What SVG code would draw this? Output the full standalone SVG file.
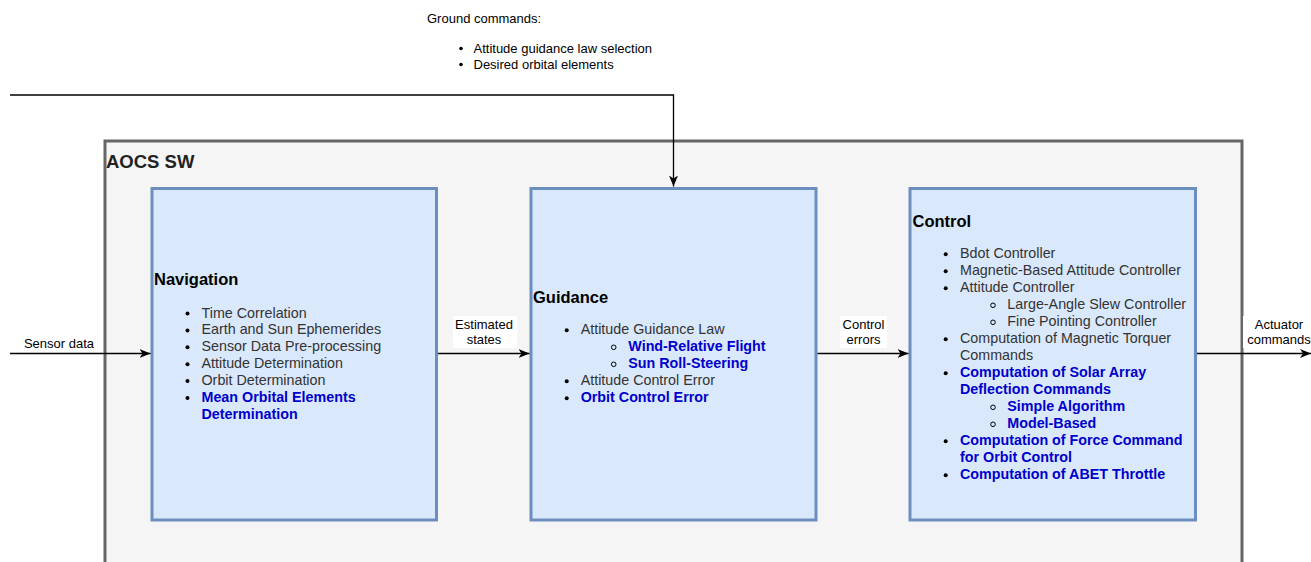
<svg xmlns="http://www.w3.org/2000/svg" width="1311" height="562" viewBox="0 0 1311 562">
  <defs>
    <marker id="arrow" viewBox="0 0 11 10" refX="11" refY="5" markerWidth="11" markerHeight="10" markerUnits="userSpaceOnUse" orient="auto">
      <path d="M0,0.5 L11,5 L0,9.5 L3,5 Z" fill="#000"/>
    </marker>
    <style>
      text { font-family: "Liberation Sans", Arial, Helvetica, sans-serif; }
      .container { fill: #f5f5f5; stroke: #666666; stroke-width: 3; }
      .block { fill: #dae8fc; stroke: #6c8ebf; stroke-width: 3; }
      .title { font-size: 16.5px; font-weight: bold; fill: #000; }
      .big { font-size: 18.5px; font-weight: bold; fill: #222; }
      .item { font-size: 14.3px; fill: #333333; }
      .hi { font-size: 14.3px; font-weight: bold; fill: #0000cc; }
      .lbl { font-size: 13px; fill: #000; text-anchor: middle; }
      .note { font-size: 13px; fill: #000; }
      .dot { fill: #000; }
      .ring { fill: none; stroke: #000; stroke-width: 1; }
      .wire { fill: none; stroke: #000; stroke-width: 1.3; }
    </style>
  </defs>

  <rect width="1311" height="562" fill="#ffffff"/>

  <!-- software container -->
  <g id="aocs-sw">
    <rect class="container" x="105" y="141" width="1137" height="460"/>
    <text class="big" x="106" y="167.5">AOCS SW</text>
  </g>

  <!-- ground command note -->
  <g id="ground-commands">
    <text class="note" x="427" y="23">Ground commands:</text>
    <circle class="dot" cx="461" cy="48.5" r="1.8"/>
    <text class="note" x="473.5" y="52.5">Attitude guidance law selection</text>
    <circle class="dot" cx="461" cy="64.5" r="1.8"/>
    <text class="note" x="473.5" y="68.5">Desired orbital elements</text>
  </g>

  <!-- navigation block -->
  <g id="navigation">
    <rect class="block" x="152" y="188.5" width="284.5" height="331.5"/>
    <text class="title" x="154" y="285">Navigation</text>
    <g>
      <circle class="dot" cx="187.5" cy="313.5" r="2"/>
      <text class="item" x="201.5" y="317.5">Time Correlation</text>
      <circle class="dot" cx="187.5" cy="330.4" r="2"/>
      <text class="item" x="201.5" y="334.4">Earth and Sun Ephemerides</text>
      <circle class="dot" cx="187.5" cy="347.3" r="2"/>
      <text class="item" x="201.5" y="351.3">Sensor Data Pre-processing</text>
      <circle class="dot" cx="187.5" cy="364.2" r="2"/>
      <text class="item" x="201.5" y="368.2">Attitude Determination</text>
      <circle class="dot" cx="187.5" cy="381.1" r="2"/>
      <text class="item" x="201.5" y="385.1">Orbit Determination</text>
      <circle class="dot" cx="187.5" cy="398" r="2"/>
      <text class="hi" x="201.5" y="402">Mean Orbital Elements</text>
      <text class="hi" x="201.5" y="418.9">Determination</text>
    </g>
  </g>

  <!-- guidance block -->
  <g id="guidance">
    <rect class="block" x="531" y="188.5" width="285" height="331.5"/>
    <text class="title" x="533" y="302.7">Guidance</text>
    <g>
      <circle class="dot" cx="566.7" cy="330.3" r="2"/>
      <text class="item" x="580.7" y="334.3">Attitude Guidance Law</text>
      <circle class="ring" cx="613.7" cy="347.3" r="2.3"/>
      <text class="hi" x="628.3" y="351.3">Wind-Relative Flight</text>
      <circle class="ring" cx="613.7" cy="364.3" r="2.3"/>
      <text class="hi" x="628.3" y="368.3">Sun Roll-Steering</text>
      <circle class="dot" cx="566.7" cy="381.3" r="2"/>
      <text class="item" x="580.7" y="385.3">Attitude Control Error</text>
      <circle class="dot" cx="566.7" cy="398.3" r="2"/>
      <text class="hi" x="580.7" y="402.3">Orbit Control Error</text>
    </g>
  </g>

  <!-- control block -->
  <g id="control">
    <rect class="block" x="910" y="188.5" width="285.5" height="331.5"/>
    <text class="title" x="912.5" y="226.7">Control</text>
    <g>
      <circle class="dot" cx="945.7" cy="254.3" r="2"/>
      <text class="item" x="960" y="258.3">Bdot Controller</text>
      <circle class="dot" cx="945.7" cy="271.3" r="2"/>
      <text class="item" x="960" y="275.3">Magnetic-Based Attitude Controller</text>
      <circle class="dot" cx="945.7" cy="288.3" r="2"/>
      <text class="item" x="960" y="292.3">Attitude Controller</text>
      <circle class="ring" cx="993" cy="305.3" r="2.3"/>
      <text class="item" x="1007.3" y="309.3">Large-Angle Slew Controller</text>
      <circle class="ring" cx="993" cy="322.3" r="2.3"/>
      <text class="item" x="1007.3" y="326.3">Fine Pointing Controller</text>
      <circle class="dot" cx="945.7" cy="339.3" r="2"/>
      <text class="item" x="960" y="343.3">Computation of Magnetic Torquer</text>
      <text class="item" x="960" y="360.3">Commands</text>
      <circle class="dot" cx="945.7" cy="373.3" r="2"/>
      <text class="hi" x="960" y="377.3">Computation of Solar Array</text>
      <text class="hi" x="960" y="394.3">Deflection Commands</text>
      <circle class="ring" cx="993" cy="407.3" r="2.3"/>
      <text class="hi" x="1007.3" y="411.3">Simple Algorithm</text>
      <circle class="ring" cx="993" cy="424.3" r="2.3"/>
      <text class="hi" x="1007.3" y="428.3">Model-Based</text>
      <circle class="dot" cx="945.7" cy="441.3" r="2"/>
      <text class="hi" x="960" y="445.3">Computation of Force Command</text>
      <text class="hi" x="960" y="462.3">for Orbit Control</text>
      <circle class="dot" cx="945.7" cy="475.3" r="2"/>
      <text class="hi" x="960" y="479.3">Computation of ABET Throttle</text>
    </g>
  </g>

  <!-- data flow connectors -->
  <g id="connectors">
    <path class="wire" d="M10,95 H673.5 V186.5" marker-end="url(#arrow)"/>

    <path class="wire" d="M10,353.5 H150.5" marker-end="url(#arrow)"/>
    <text class="lbl" x="59" y="348">Sensor data</text>

    <path class="wire" d="M438,353.5 H529.5" marker-end="url(#arrow)"/>
    <rect x="453" y="316" width="64" height="32" fill="#ffffff"/>
    <text class="lbl" x="484" y="328.5">Estimated</text>
    <text class="lbl" x="484" y="343.5">states</text>

    <path class="wire" d="M817.5,353.5 H908.5" marker-end="url(#arrow)"/>
    <rect x="840" y="316" width="47" height="32" fill="#ffffff"/>
    <text class="lbl" x="863.5" y="328.5">Control</text>
    <text class="lbl" x="863.5" y="343.5">errors</text>

    <path class="wire" d="M1197,353.5 H1311" marker-end="url(#arrow)"/>
    <rect x="1243" y="316" width="68" height="32" fill="#ffffff"/>
    <text class="lbl" x="1279" y="328.5">Actuator</text>
    <text class="lbl" x="1279" y="343.5">commands</text>
  </g>
</svg>
